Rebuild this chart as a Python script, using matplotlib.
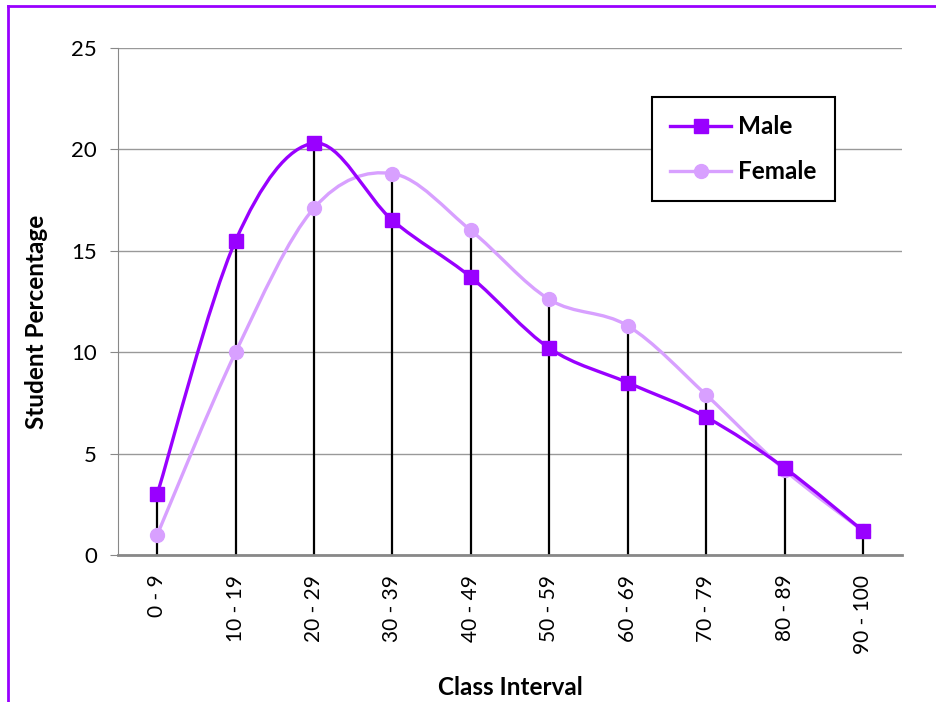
import numpy as np
import matplotlib.pyplot as plt
from matplotlib.path import Path
from matplotlib.patches import PathPatch
from matplotlib.lines import Line2D

# Daten
classes = ['0 - 9', '10 - 19', '20 - 29', '30 - 39', '40 - 49',
           '50 - 59', '60 - 69', '70 - 79', '80 - 89', '90 - 100']
male = [3.0, 15.5, 20.3, 16.5, 13.7, 10.2, 8.5, 6.8, 4.3, 1.2]
female = [1.0, 10.0, 17.1, 18.8, 16.0, 12.6, 11.3, 7.9, 4.2, 1.2]

male_color = '#9900FF'
female_color = '#D8A0FF'

plt.rcParams['font.family'] = ['Lato', 'DejaVu Sans']


def smooth_path(x, y):
    # Bezier-Glaettung wie in Excel (Catmull-Rom, Spannung 1/6)
    pts = np.column_stack([x, y]).astype(float)
    verts = [pts[0]]
    codes = [Path.MOVETO]
    n = len(pts)
    for i in range(n - 1):
        p0 = pts[i - 1] if i > 0 else pts[i]
        p1 = pts[i]
        p2 = pts[i + 1]
        p3 = pts[i + 2] if i + 2 < n else pts[i + 1]
        c1 = p1 + (p2 - p0) / 6
        c2 = p2 - (p3 - p1) / 6
        verts += [c1, c2, p2]
        codes += [Path.CURVE4] * 3
    return Path(verts, codes)


fig = plt.figure(figsize=(9.36, 7.02), dpi=100)
ax = fig.add_axes([0.126, 0.209, 0.838, 0.723])

xs = np.arange(len(classes))

# Senkrechte Linien
ax.vlines(xs, 0, np.maximum(male, female), color='black', lw=1.6, zorder=2)

ax.add_patch(PathPatch(smooth_path(xs, female), fill=False, ec=female_color, lw=2.4, zorder=3))
ax.plot(xs, female, ls='none', marker='o', ms=10, color=female_color, zorder=4)
ax.add_patch(PathPatch(smooth_path(xs, male), fill=False, ec=male_color, lw=2.4, zorder=3))
ax.plot(xs, male, ls='none', marker='s', ms=9.5, color=male_color, zorder=4)

ax.set_xlim(-0.5, len(classes) - 0.5)
ax.set_ylim(0, 25)
ax.set_yticks([0, 5, 10, 15, 20, 25])
ax.set_xticks(xs)
ax.set_xticklabels(classes, rotation=90, fontsize=15)
ax.tick_params(axis='y', labelsize=16, length=6, color='#888888', pad=9)
ax.tick_params(axis='x', length=0, pad=14)
ax.grid(axis='y', color='#999999', lw=1)
ax.set_axisbelow(True)
for s in ['top', 'right']:
    ax.spines[s].set_visible(False)
ax.spines['left'].set_color('#888888')
ax.spines['bottom'].set_color('#888888')
ax.spines['bottom'].set_linewidth(2)

ax.set_xlabel('Class Interval', fontsize=17.5, fontweight='bold', labelpad=16)
ax.set_ylabel('Student Percentage', fontsize=17.5, fontweight='bold')
ax.yaxis.set_label_coords(-0.089, 0.46)

handles = [Line2D([], [], color=male_color, lw=2.4, marker='s', ms=9.5),
           Line2D([], [], color=female_color, lw=2.4, marker='o', ms=10)]
leg = ax.legend(handles, ['Male', 'Female'], loc='upper left',
                bbox_to_anchor=(0.681, 0.903), borderaxespad=0,
                fancybox=False, framealpha=1,
                edgecolor='black', borderpad=0.75, labelspacing=0.9,
                handlelength=2.5, handletextpad=0.3,
                prop={'size': 17.5, 'weight': 'bold'})
leg.get_frame().set_linewidth(1.5)

# Rahmen
fig.add_artist(Line2D([8 / 936, 8 / 936], [0, 1 - 6 / 702], color=male_color, lw=2))
fig.add_artist(Line2D([8 / 936, 1], [1 - 6 / 702, 1 - 6 / 702], color=male_color, lw=2))

fig.savefig('out.png', dpi=100)
